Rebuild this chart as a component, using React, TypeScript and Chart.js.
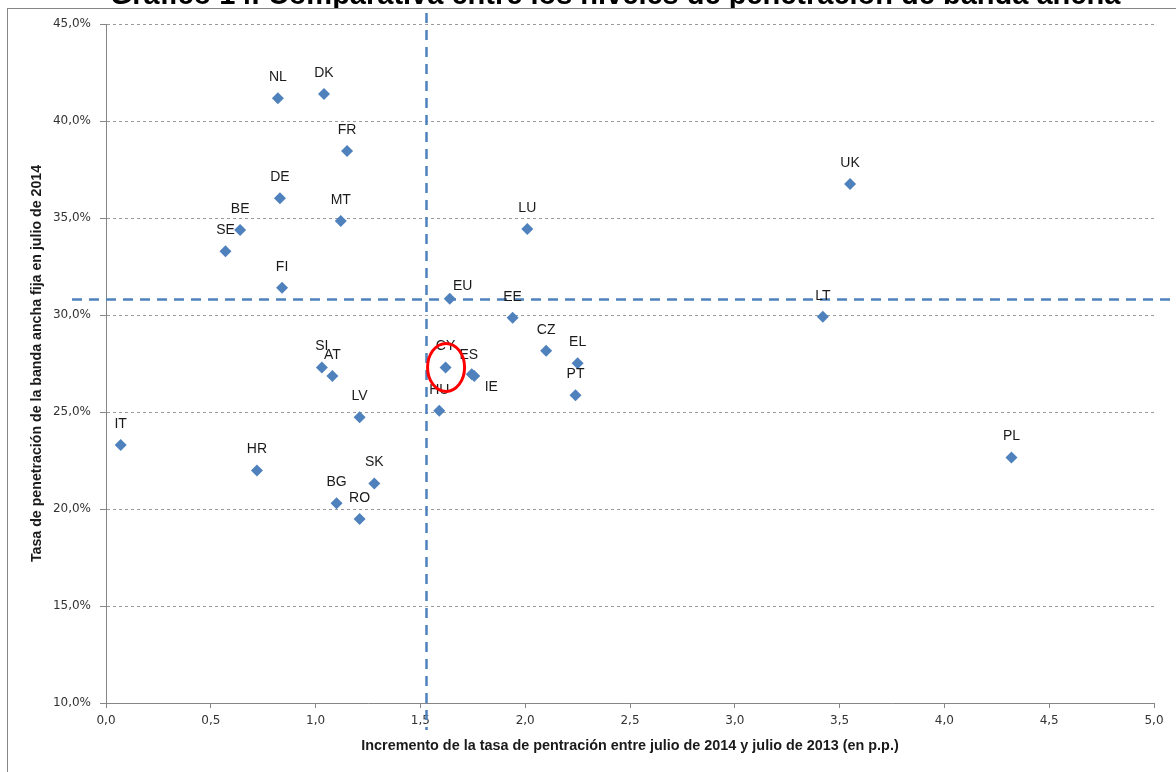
import React, { useEffect, useRef } from 'react';
import { Chart, registerables } from 'chart.js';

Chart.register(...registerables);

// ---------- data ----------
const TITLE = 'Gráfico 14. Comparativa entre los niveles de penetración de banda ancha';
const X_TITLE = 'Incremento de la tasa de pentración entre julio de 2014 y julio de 2013 (en p.p.)';
const Y_TITLE = 'Tasa de penetración de la banda ancha fija en julio de 2014';

const COUNTRIES = ['NL', 'DK', 'FR', 'DE', 'MT', 'BE', 'SE', 'FI', 'LU', 'UK', 'EU', 'EE', 'LT', 'CZ', 'EL', 'SI', 'AT', 'CY', 'ES', 'IE', 'HU', 'PT', 'LV', 'IT', 'HR', 'SK', 'BG', 'RO', 'PL'];
const INCREMENT_PP = [0.82, 1.04, 1.15, 0.83, 1.12, 0.64, 0.57, 0.84, 2.01, 3.55, 1.64, 1.94, 3.42, 2.10, 2.25, 1.03, 1.08, 1.62, 1.745, 1.757, 1.59, 2.24, 1.21, 0.07, 0.72, 1.28, 1.10, 1.21, 4.32];
const PENETRATION_PCT = [41.17, 41.39, 38.45, 36.02, 34.85, 34.38, 33.28, 31.41, 34.43, 36.75, 30.84, 29.86, 29.91, 28.16, 27.51, 27.30, 26.86, 27.30, 26.95, 26.85, 25.07, 25.86, 24.73, 23.30, 21.99, 21.32, 20.29, 19.48, 22.66];

const EU_REF_INCREMENT = 1.525;
const EU_REF_PENETRATION = 30.85;
const HIGHLIGHT = 'CY';

const X_TICKS = [0, 0.5, 1, 1.5, 2, 2.5, 3, 3.5, 4, 4.5, 5];
const Y_TICKS = [10, 15, 20, 25, 30, 35, 40, 45];

// ---------- label placement (style) ----------
const DEFAULT_LABEL_OFFSET = { dx: 0, dy: -21 };
const LABEL_OFFSETS: Record<string, { dx: number; dy: number }> = {
  ES: { dx: -3, dy: -19 },
  IE: { dx: 17, dy: 11 },
  EU: { dx: 13, dy: -13 },
};

const BLUE = '#4F81BD';
const AXIS_GREY = '#868686';

const extrasPlugin = {
  id: 'extras',
  beforeDraw(chart: any) {
    const { ctx } = chart;
    ctx.save();
    ctx.fillStyle = '#ffffff';
    ctx.fillRect(0, 0, chart.width, chart.height);
    ctx.font = 'bold 29px "Liberation Sans", Arial, sans-serif';
    ctx.fillStyle = '#000000';
    ctx.textAlign = 'center';
    ctx.textBaseline = 'alphabetic';
    ctx.fillText(TITLE, 615, 4);
    ctx.fillStyle = '#ffffff';
    ctx.fillRect(0, 8, chart.width, 4);
    ctx.strokeStyle = AXIS_GREY;
    ctx.lineWidth = 1;
    ctx.strokeRect(7.5, 8.5, chart.width + 20, chart.height + 20);
    ctx.restore();
  },
  beforeDatasetsDraw(chart: any) {
    const { ctx, chartArea, scales } = chart;
    const xv = Math.round(scales.x.getPixelForValue(EU_REF_INCREMENT)) + 0.5;
    const yv = Math.round(scales.y.getPixelForValue(EU_REF_PENETRATION)) + 0.5;
    ctx.save();
    ctx.strokeStyle = BLUE;
    ctx.lineWidth = 2.5;
    ctx.setLineDash([10, 7]);
    ctx.beginPath();
    ctx.moveTo(xv, chartArea.top - 11);
    ctx.lineTo(xv, chartArea.bottom + 27);
    ctx.stroke();
    ctx.beginPath();
    ctx.moveTo(chartArea.left - 34, yv);
    ctx.lineTo(chart.width, yv);
    ctx.stroke();
    ctx.restore();
  },
  afterDatasetsDraw(chart: any) {
    const { ctx } = chart;
    const meta = chart.getDatasetMeta(0);
    ctx.save();
    ctx.font = '14px "Liberation Sans", Arial, sans-serif';
    ctx.fillStyle = '#1a1a1a';
    ctx.textAlign = 'center';
    ctx.textBaseline = 'middle';
    COUNTRIES.forEach((c, i) => {
      const el = meta.data[i];
      const off = LABEL_OFFSETS[c] || DEFAULT_LABEL_OFFSET;
      ctx.fillText(c, el.x + off.dx, el.y + off.dy);
    });
    const hi = meta.data[COUNTRIES.indexOf(HIGHLIGHT)];
    ctx.strokeStyle = '#FF0000';
    ctx.lineWidth = 3;
    ctx.beginPath();
    ctx.ellipse(hi.x + 0.5, hi.y, 18.5, 24, 0, 0, Math.PI * 2);
    ctx.stroke();
    ctx.restore();
  },
};

const fmt = (v: number) => v.toFixed(1).replace('.', ',');

export default function App() {
  const ref = useRef<HTMLCanvasElement>(null);
  useEffect(() => {
    const canvas = ref.current;
    if (!canvas) return;
    const chart = new Chart(canvas, {
      type: 'scatter',
      data: {
        datasets: [
          {
            data: COUNTRIES.map((_, i) => ({ x: INCREMENT_PP[i], y: PENETRATION_PCT[i] })),
            pointStyle: 'rectRot',
            pointRadius: 6,
            pointHoverRadius: 6,
            backgroundColor: BLUE,
            borderColor: BLUE,
            borderWidth: 0,
          },
        ],
      },
      options: {
        responsive: false,
        animation: false,
        devicePixelRatio: 1,
        events: [],
        layout: { padding: { left: 0, top: 24, right: 22, bottom: 0 } },
        plugins: {
          legend: { display: false },
          tooltip: { enabled: false },
          title: { display: false },
        },
        scales: {
          x: {
            type: 'linear',
            position: 'bottom',
            min: 0,
            max: 5,
            afterBuildTicks: (s: any) => {
              s.ticks = X_TICKS.map((v) => ({ value: v }));
            },
            afterFit: (s: any) => {
              s.height = 69;
              s.paddingLeft = 0;
              s.paddingRight = 0;
            },
            grid: { drawOnChartArea: false, drawTicks: true, tickLength: 5, tickColor: AXIS_GREY, tickWidth: 1 },
            border: { display: true, color: AXIS_GREY, width: 1 },
            ticks: {
              font: { family: '"DejaVu Sans", sans-serif', size: 12 },
              color: '#333333',
              padding: 6,
              maxRotation: 0,
              autoSkip: false,
              callback: (v: any) => fmt(Number(v)),
            },
            title: {
              display: true,
              text: X_TITLE,
              color: '#1a1a1a',
              font: { family: '"Liberation Sans", Arial, sans-serif', size: 14.4, weight: 'bold' },
              padding: { top: 0, bottom: 17 },
            },
          },
          y: {
            type: 'linear',
            min: 10,
            max: 45,
            afterBuildTicks: (s: any) => {
              s.ticks = Y_TICKS.map((v) => ({ value: v }));
            },
            afterFit: (s: any) => {
              s.width = 106;
              s.paddingTop = 0;
              s.paddingBottom = 0;
            },
            grid: { color: '#9a9a9a', lineWidth: 1, drawTicks: true, tickLength: 6, tickColor: AXIS_GREY, tickWidth: 1 },
            border: { display: true, color: AXIS_GREY, width: 1, dash: [3, 3] },
            ticks: {
              font: { family: '"DejaVu Sans", sans-serif', size: 12 },
              color: '#333333',
              padding: 9,
              autoSkip: false,
              callback: (v: any) => fmt(Number(v)) + '%',
            },
            title: {
              display: true,
              text: Y_TITLE,
              color: '#1a1a1a',
              font: { family: '"Liberation Sans", Arial, sans-serif', size: 14.2, weight: 'bold' },
              padding: { top: 29, bottom: 0 },
            },
          },
        },
      },
      plugins: [extrasPlugin],
    } as any);
    return () => chart.destroy();
  }, []);

  return (
    <div style={{ position: 'absolute', left: 0, top: 0, width: 1176, height: 772, background: '#ffffff', overflow: 'hidden' }}>
      <canvas ref={ref} width={1176} height={772} style={{ display: 'block', width: 1176, height: 772 }} />
    </div>
  );
}
